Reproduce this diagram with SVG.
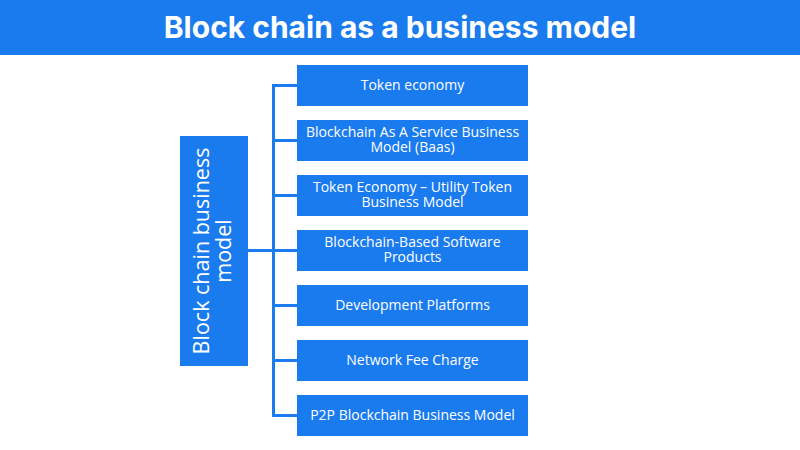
<svg xmlns="http://www.w3.org/2000/svg" width="800" height="450" viewBox="0 0 800 450">
  <defs>
    <style>
      .box { fill: #1a7bef; }
      .lbl { font-family: "Open Sans", "Liberation Sans", sans-serif; font-size: 14px; fill: #ffffff; text-anchor: middle; }
      .conn { stroke: #1a7bef; stroke-width: 3; fill: none; }
      .title { font-family: "Inter", "Open Sans", "Liberation Sans", sans-serif; font-size: 30px; font-weight: 700; fill: #ffffff; text-anchor: middle; }
      .root { font-family: "Open Sans", "Liberation Sans", sans-serif; font-size: 21.5px; fill: #ffffff; text-anchor: middle; }
    </style>
  </defs>
  <rect x="0" y="0" width="800" height="450" fill="#ffffff"/>
  <g id="header">
    <rect x="0" y="0" width="800" height="55" class="box"/>
    <text x="400" y="38" class="title">Block chain as a business model</text>
  </g>
  <g id="connectors">
    <path class="conn" d="M248 250.5 H273.5"/>
    <path class="conn" d="M273.5 85.5 V415.5"/>
    <path class="conn" d="M272 85.5 H298"/>
    <path class="conn" d="M272 140.5 H298"/>
    <path class="conn" d="M272 195.5 H298"/>
    <path class="conn" d="M272 250.5 H298"/>
    <path class="conn" d="M272 305.5 H298"/>
    <path class="conn" d="M272 360.5 H298"/>
    <path class="conn" d="M272 415.5 H298"/>
  </g>
  <g id="root">
    <rect x="180" y="136" width="68" height="230" class="box"/>
    <text class="root" transform="translate(209 251) rotate(-90)">Block chain business</text>
    <text class="root" transform="translate(231 251) rotate(-90)">model</text>
  </g>
  <g id="n1">
    <rect x="297" y="65" width="231" height="41" class="box"/>
    <text x="412.5" y="90" class="lbl">Token economy</text>
  </g>
  <g id="n2">
    <rect x="297" y="120" width="231" height="41" class="box"/>
    <text x="412.5" y="137" class="lbl">Blockchain As A Service Business</text>
    <text x="412.5" y="152" class="lbl">Model (Baas)</text>
  </g>
  <g id="n3">
    <rect x="297" y="175" width="231" height="41" class="box"/>
    <text x="412.5" y="192" class="lbl">Token Economy – Utility Token</text>
    <text x="412.5" y="207" class="lbl">Business Model</text>
  </g>
  <g id="n4">
    <rect x="297" y="230" width="231" height="41" class="box"/>
    <text x="412.5" y="247" class="lbl">Blockchain-Based Software</text>
    <text x="412.5" y="262" class="lbl">Products</text>
  </g>
  <g id="n5">
    <rect x="297" y="285" width="231" height="41" class="box"/>
    <text x="412.5" y="310" class="lbl">Development Platforms</text>
  </g>
  <g id="n6">
    <rect x="297" y="340" width="231" height="41" class="box"/>
    <text x="412.5" y="365" class="lbl">Network Fee Charge</text>
  </g>
  <g id="n7">
    <rect x="297" y="395" width="231" height="41" class="box"/>
    <text x="412.5" y="420" class="lbl">P2P Blockchain Business Model</text>
  </g>
</svg>
